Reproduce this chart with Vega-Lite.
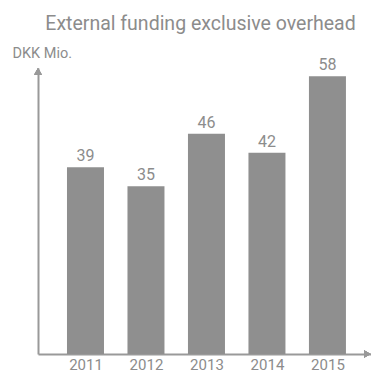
{
  "$schema": "https://vega.github.io/schema/vega-lite/v6.json",
  "width": 333,
  "height": 286,
  "autosize": "none",
  "padding": {"left": 38, "top": 68, "right": 0, "bottom": 19},
  "background": "white",
  "config": {"view": {"stroke": null}, "font": "Roboto"},
  "title": {
    "text": "External funding exclusive overhead",
    "anchor": "middle",
    "frame": "group",
    "fontSize": 19.5,
    "fontWeight": "normal",
    "color": "#8c8c8c",
    "font": "Roboto",
    "dx": -4,
    "offset": 11
  },
  "data": {
    "values": [
      {"year": 2011, "value": 39},
      {"year": 2012, "value": 35},
      {"year": 2013, "value": 46},
      {"year": 2014, "value": 42},
      {"year": 2015, "value": 58}
    ]
  },
  "layer": [
    {
      "mark": {"type": "bar", "width": 37, "color": "#8f8f8f"},
      "encoding": {
        "x": {
          "field": "year",
          "type": "quantitative",
          "scale": {"domain": [2010.215, 2015.72], "nice": false, "zero": false, "padding": 0},
          "axis": {
            "values": [2011, 2012, 2013, 2014, 2015],
            "format": "d",
            "title": null,
            "ticks": false,
            "grid": false,
            "domainColor": "#999999",
            "domainWidth": 2,
            "labelFontSize": 15,
            "labelColor": "#8c8c8c",
            "labelPadding": 3,
            "labelFont": "Roboto"
          }
        },
        "y": {
          "field": "value",
          "type": "quantitative",
          "scale": {"domain": [0, 59.7], "nice": false, "padding": 0},
          "axis": {
            "title": "DKK Mio.",
            "titleAngle": 0,
            "titleAlign": "left",
            "titleBaseline": "alphabetic",
            "titleX": -26,
            "titleY": -11,
            "titleFontSize": 14.5,
            "titleFontWeight": "normal",
            "titleColor": "#8c8c8c",
            "titleFont": "Roboto",
            "labels": false,
            "ticks": false,
            "grid": false,
            "domainColor": "#999999",
            "domainWidth": 2
          }
        }
      }
    },
    {
      "mark": {"type": "text", "baseline": "alphabetic", "dy": -6, "fontSize": 16, "color": "#8c8c8c", "font": "Roboto"},
      "encoding": {
        "x": {"field": "year", "type": "quantitative"},
        "y": {"field": "value", "type": "quantitative"},
        "text": {"field": "value", "type": "quantitative"}
      }
    },
    {
      "mark": {"type": "point", "shape": "triangle-up", "filled": true, "size": 60, "color": "#999999", "opacity": 1},
      "encoding": {
        "x": {"datum": 2010.215, "type": "quantitative"},
        "y": {"datum": 59.0, "type": "quantitative"}
      }
    },
    {
      "mark": {"type": "point", "shape": "triangle-right", "filled": true, "size": 60, "color": "#999999", "opacity": 1},
      "encoding": {
        "x": {"datum": 2015.66, "type": "quantitative"},
        "y": {"datum": 0, "type": "quantitative"}
      }
    }
  ]
}
